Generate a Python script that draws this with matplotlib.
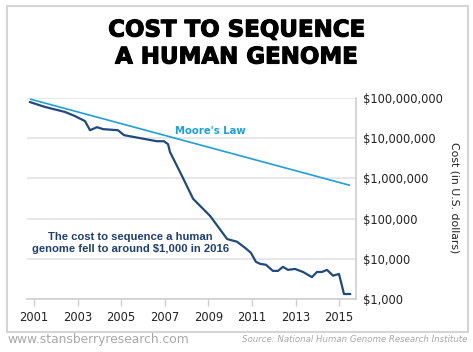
import matplotlib
matplotlib.use("Agg")
import matplotlib.pyplot as plt
import matplotlib.patheffects as pe
from matplotlib.patches import Rectangle
from matplotlib.ticker import NullLocator

# genome sequencing cost
genome_years = [2000.82, 2001.50, 2002.42, 2002.88, 2003.34, 2003.57, 2003.89, 2004.17,
                2004.85, 2005.13, 2006.64, 2006.96, 2007.15, 2007.24, 2007.70, 2008.30,
                2009.08, 2009.86, 2010.31, 2010.68, 2010.95, 2011.18, 2011.37, 2011.64,
                2011.96, 2012.19, 2012.42, 2012.65, 2012.97, 2013.34, 2013.75, 2013.98,
                2014.21, 2014.44, 2014.72, 2014.99, 2015.22, 2015.50]
genome_cost = [7.9e7, 6.0e7, 4.5e7, 3.55e7, 2.66e7, 1.58e7, 1.88e7, 1.68e7,
               1.58e7, 1.19e7, 8.4e6, 8.4e6, 7.1e6, 4.5e6, 1.44e6, 3.1e5,
               1.16e5, 3.1e4, 2.66e4, 1.88e4, 1.41e4, 8.4e3, 7.5e3, 7.1e3,
               5.0e3, 5.0e3, 6.3e3, 5.3e3, 5.6e3, 4.7e3, 3.5e3, 4.7e3,
               4.7e3, 5.3e3, 3.8e3, 4.2e3, 1.33e3, 1.33e3]

# Moore's law reference line
moore_years = [2000.82, 2015.50]
moore_cost = [9.4e7, 6.7e5]

year_ticks = [2001, 2003, 2005, 2007, 2009, 2011, 2013, 2015]
cost_ticks = [1e3, 1e4, 1e5, 1e6, 1e7, 1e8]
cost_labels = ["$1,000", "$10,000", "$100,000", "$1,000,000", "$10,000,000", "$100,000,000"]

navy = "#1f4a7f"
blue = "#1ea0dc"
grey = "#cfcfcf"

fig = plt.figure(figsize=(4.73, 3.52), dpi=100)
ax = fig.add_axes([0.0571, 0.1506, 0.6955, 0.571])

ax.plot(moore_years, moore_cost, color=blue, lw=1.2, solid_capstyle="butt")
ax.plot(genome_years, genome_cost, color=navy, lw=1.6, solid_joinstyle="round")

ax.set_yscale("log")
ax.set_ylim(1e3, 1e8)
ax.set_xlim(2000.68, 2015.77)
ax.yaxis.set_minor_locator(NullLocator())
ax.yaxis.tick_right()
ax.set_yticks(cost_ticks)
ax.set_yticklabels(cost_labels)
ax.set_xticks(year_ticks)
ax.tick_params(axis="y", length=0, pad=5, labelsize=8.3, labelcolor="#222222")
ax.tick_params(axis="x", length=5, width=1, color=grey, pad=4, labelsize=8.3, labelcolor="#222222")
ax.grid(axis="y", color="#e4e4e4", lw=1.2)
ax.set_axisbelow(True)
for side in ["top", "left"]:
    ax.spines[side].set_visible(False)
for side in ["bottom", "right"]:
    ax.spines[side].set_color(grey)
    ax.spines[side].set_linewidth(1.2)

ax.text(2007.47, 1.55e7, "Moore's Law", color=blue, fontsize=7.3, fontweight="bold",
        ha="left", va="center")
ax.text(2005.43, 2.47e4, "The cost to sequence a human\ngenome fell to around $1,000 in 2016",
        color="#1f3f6e", fontsize=8.1, fontweight="bold", ha="center", va="center",
        family=["Liberation Sans", "DejaVu Sans"], linespacing=1.15)

fig.text(0.96, 1 - 198 / 352, "Cost (in U.S. dollars)", rotation=-90, fontsize=7.8,
         color="#222222", ha="center", va="center")

heavy = [pe.withStroke(linewidth=0.8, foreground="black")]
fig.text(0.5, 1 - 30 / 352, "COST TO SEQUENCE", ha="center", va="center", fontsize=16.5,
         fontweight="bold", color="black", path_effects=heavy)
fig.text(0.5, 1 - 57 / 352, "A HUMAN GENOME", ha="center", va="center", fontsize=16.5,
         fontweight="bold", color="black", path_effects=heavy)

fig.text(7 / 473, 1 - 340 / 352, "www.stansberryresearch.com", ha="left", va="center",
         fontsize=8.8, color="#a8a8a8")
fig.text(467 / 473, 1 - 340 / 352, "Source: National Human Genome Research Institute",
         ha="right", va="center", fontsize=6.2, style="italic", color="#a8a8a8")

fig.patches.append(Rectangle((7 / 473, 1 - 332 / 352), 461 / 473, 326 / 352,
                             transform=fig.transFigure, fill=False, ec="#d5d5d5", lw=1.5))

fig.savefig("out.png", dpi=100)
